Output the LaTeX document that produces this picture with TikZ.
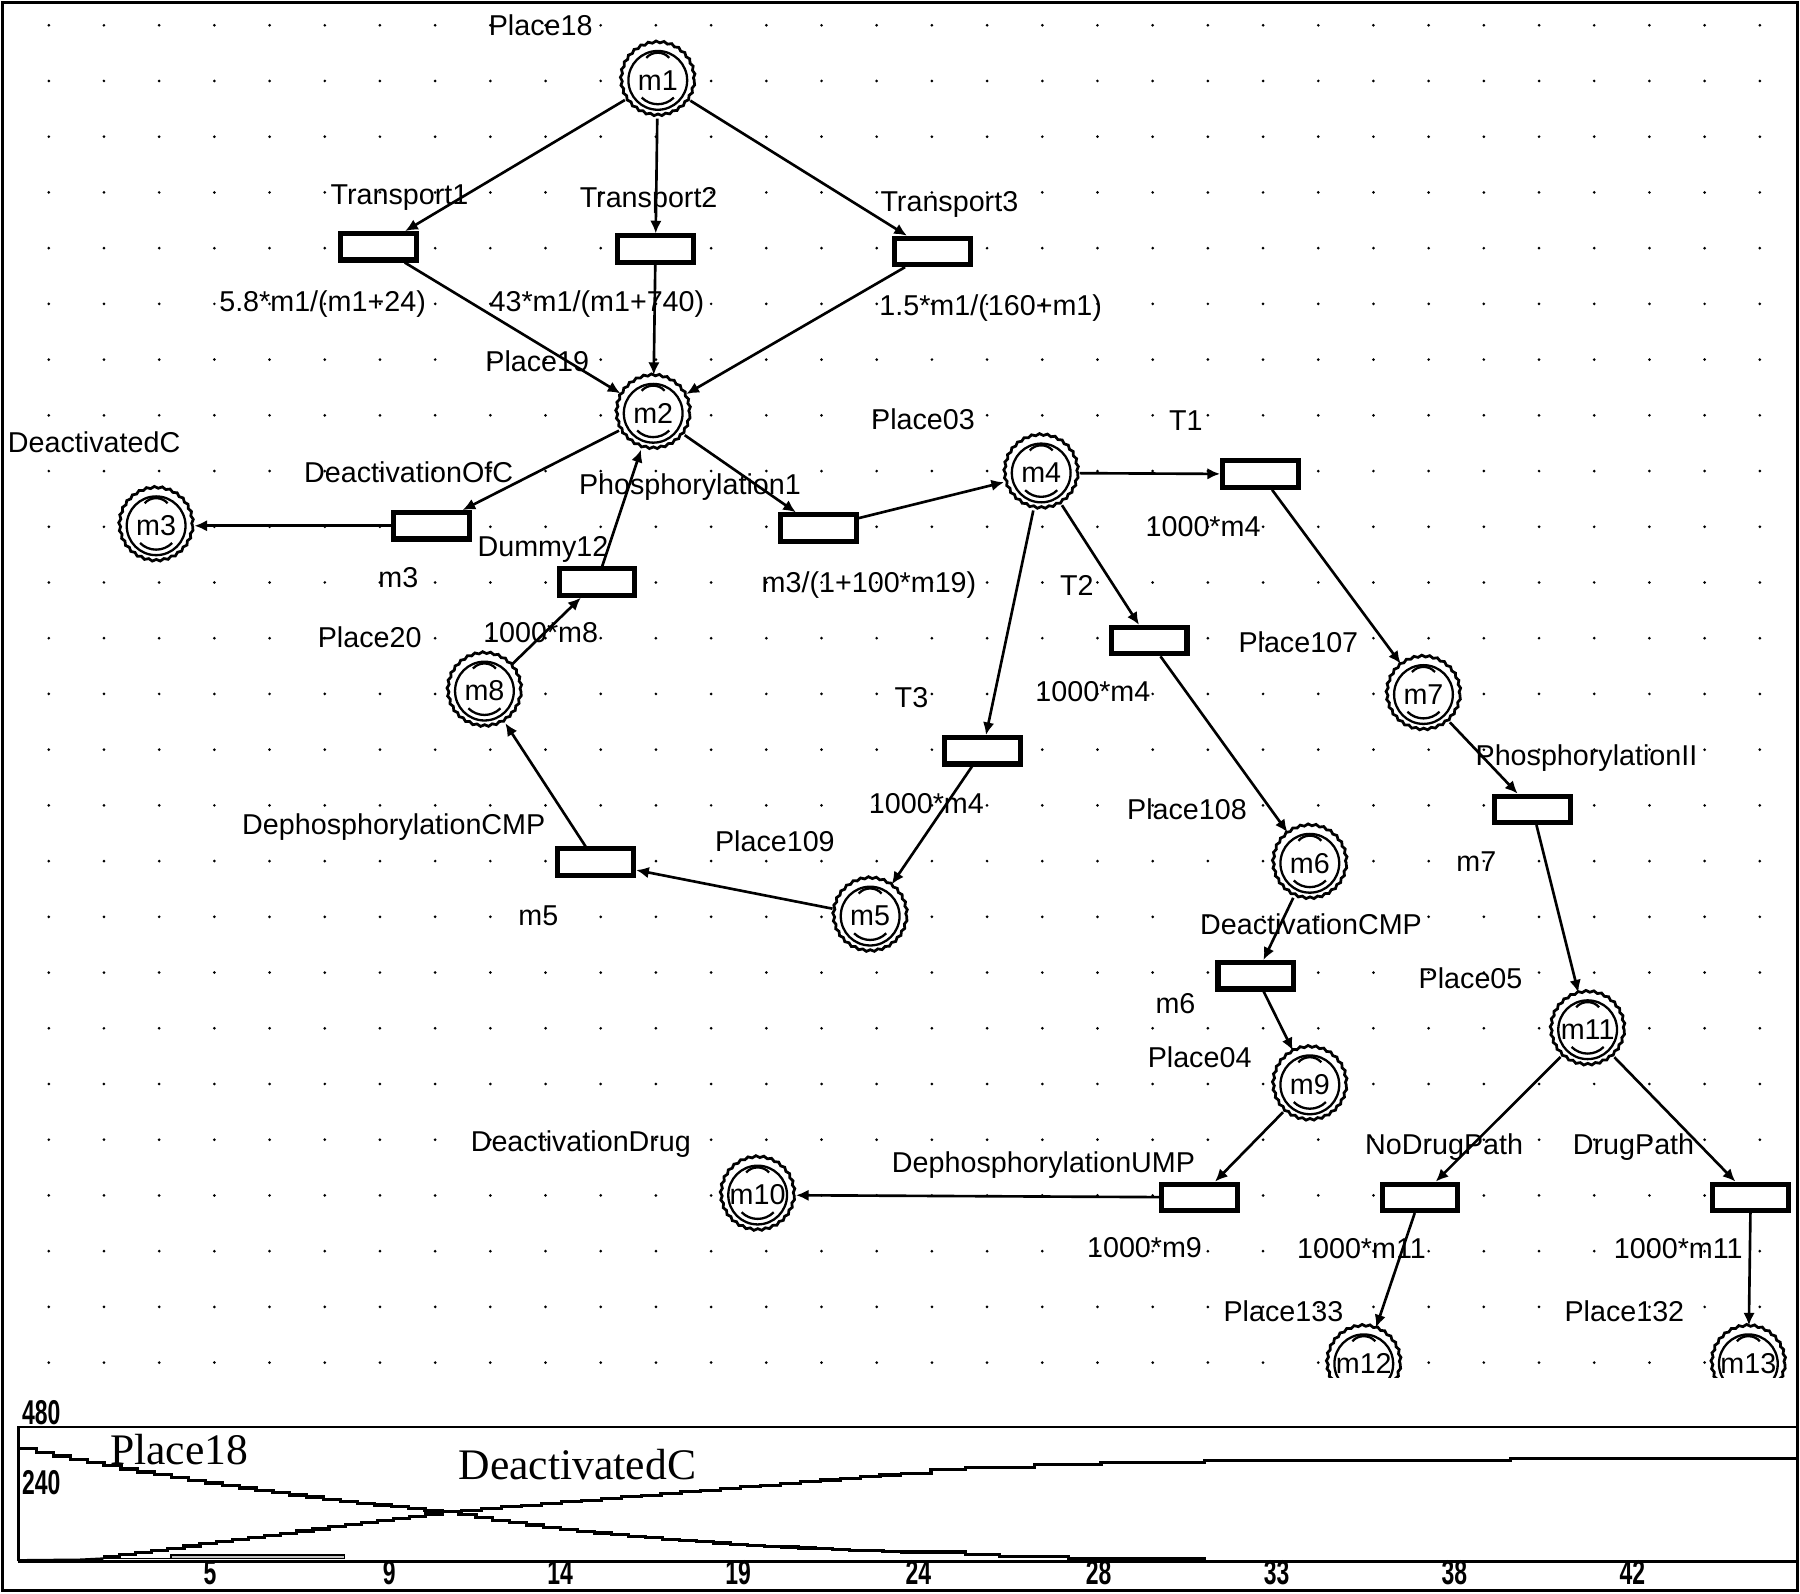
\documentclass[tikz,border=0pt]{standalone}
\usepackage{fontspec}
\setmainfont{Liberation Sans}
\newfontfamily\chartserif{Liberation Serif}
\newfontfamily\tickfont{Liberation Sans}
\usetikzlibrary{decorations.pathmorphing,arrows.meta}
\newcommand\tk[1]{\scalebox{0.8}[1.2]{#1}}
\tikzset{
 lbl/.style={font=\fontsize{12.5}{14}\selectfont, inner sep=0pt, anchor=base},
 tbox/.style={rectangle, draw, line width=2.2pt, fill=white, minimum width=33pt, minimum height=11.5pt, inner sep=0pt},
 pnode/.style={circle, minimum size=33pt, inner sep=0pt, fill=white, font=\fontsize{12.5}{12}\selectfont},
 pring/.style={line width=1.2pt, decorate, decoration={snake, amplitude=0.4pt, segment length=3.4pt}},
 pinner/.style={line width=1pt},
 conn/.style={line width=1.15pt, -{Latex[length=5.5pt,width=5pt]}},
 tick/.style={font=\tickfont\bfseries\fontsize{12.5}{12}\selectfont, inner sep=0pt, anchor=base},
 big/.style={font=\chartserif\fontsize{19}{20}\selectfont, inner sep=0pt, anchor=base},
 curve/.style={line width=1.4pt},
}
\newcommand\mkplace[4]{%
  \node[pnode] (#1) at (#2,#3) {#4};
  \draw[pring] (#1.center) circle[radius=15.9pt];
  \draw[pinner] (#1.center) circle[radius=12.8pt];
  \draw[pinner] ([shift={(-5pt,9.8pt)}]#1.center) to[bend left=50] ([shift={(5pt,9.8pt)}]#1.center);
  \draw[pinner] ([shift={(-7pt,-7.5pt)}]#1.center) to[bend right=45] ([shift={(7pt,-7.5pt)}]#1.center);
}
\begin{document}
\begin{tikzpicture}[x=0.5pt,y=-0.5pt]
\useasboundingbox (0,0) rectangle (1568,1388.3);
\fill[white] (0,0) rectangle (1568,1388.3);
\draw[line width=1.3pt] (2,2) rectangle (1565.5,1385.5);

\begin{scope}
\clip (0,0) rectangle (1568,1200);
% dot grid
\foreach \i in {0,...,31} \foreach \j in {0,...,24}
  \fill ({42.5+48.08*\i},{22+48.54*\j}) circle[radius=0.65pt];

% labels
\node[lbl] at (471,31) {Place18};
\node[lbl] at (348,178) {Transport1};
\node[lbl] at (565,181) {Transport2};
\node[lbl] at (827,184) {Transport3};
\node[lbl] at (281,271) {5.8*m1/(m1+24)};
\node[lbl] at (520,271) {43*m1/(m1+740)};
\node[lbl] at (863,275) {1.5*m1/(160+m1)};
\node[lbl] at (468,324) {Place19};
\node[lbl] at (804,374) {Place03};
\node[lbl] at (1033,375) {T1};
\node[lbl] at (82,394) {DeactivatedC};
\node[lbl] at (356,420) {DeactivationOfC};
\node[lbl] at (601,431) {Phosphorylation1};
\node[lbl] at (473,485) {Dummy12};
\node[lbl] at (1048,467) {1000*m4};
\node[lbl] at (347,512) {m3};
\node[lbl] at (757,516) {m3/(1+100*m19)};
\node[lbl] at (938,519) {T2};
\node[lbl] at (322,564) {Place20};
\node[lbl] at (471,560) {1000*m8};
\node[lbl] at (1131,568) {Place107};
\node[lbl] at (794,616) {T3};
\node[lbl] at (952,611) {1000*m4};
\node[lbl] at (1382,667) {PhosphorylationII};
\node[lbl] at (807,709) {1000*m4};
\node[lbl] at (1034,714) {Place108};
\node[lbl] at (343,727) {DephosphorylationCMP};
\node[lbl] at (675,742) {Place109};
\node[lbl] at (1286,759) {m7};
\node[lbl] at (469,806) {m5};
\node[lbl] at (1142,814) {DeactivationCMP};
\node[lbl] at (1281,861) {Place05};
\node[lbl] at (1024,883) {m6};
\node[lbl] at (1045,930) {Place04};
\node[lbl] at (506,1003) {DeactivationDrug};
\node[lbl] at (1258,1006) {NoDrugPath};
\node[lbl] at (1423,1006) {DrugPath};
\node[lbl] at (909,1021) {DephosphorylationUMP};
\node[lbl] at (997,1095) {1000*m9};
\node[lbl] at (1186,1096) {1000*m11};
\node[lbl] at (1462,1096) {1000*m11};
\node[lbl] at (1118,1151) {Place133};
\node[lbl] at (1415,1151) {Place132};

% transitions
\node[tbox] (Transport1) at (330,215) {};
\node[tbox] (Transport2) at (571,217) {};
\node[tbox] (Transport3) at (812,219) {};
\node[tbox] (DeactOfC) at (376,458) {};
\node[tbox] (Phos1) at (713,460) {};
\node[tbox] (Dummy12) at (520,507) {};
\node[tbox] (T1) at (1098,413) {};
\node[tbox] (T2) at (1001,558) {};
\node[tbox] (T3) at (856,654) {};
\node[tbox] (DephCMP) at (519,751) {};
\node[tbox] (PhosII) at (1335,705) {};
\node[tbox] (DeactCMP) at (1094,850) {};
\node[tbox] (DephUMP) at (1045,1043) {};
\node[tbox] (NoDrug) at (1237,1043) {};
\node[tbox] (Drug) at (1525,1043) {};

% places
\mkplace{m1}{573}{70}{m1}
\mkplace{m2}{569}{360}{m2}
\mkplace{m3}{136}{458}{m3}
\mkplace{m4}{907}{412}{m4}
\mkplace{m5}{758}{798}{m5}
\mkplace{m6}{1141}{752}{m6}
\mkplace{m7}{1240}{605}{m7}
\mkplace{m8}{422}{602}{m8}
\mkplace{m9}{1141}{945}{m9}
\mkplace{m10}{660}{1041}{m10}
\mkplace{m11}{1383}{897}{m11}
\mkplace{m12}{1188}{1188}{m12}
\mkplace{m13}{1523}{1188}{m13}

% connectors
\draw[conn] (m1) -- (Transport1);
\draw[conn] (m1) -- (Transport2);
\draw[conn] (m1) -- (Transport3);
\draw[conn] (Transport1) -- (m2);
\draw[conn] (Transport2) -- (m2);
\draw[conn] (Transport3) -- (m2);
\draw[conn] (m2) -- (DeactOfC);
\draw[conn] (DeactOfC) -- (m3);
\draw[conn] (m2) -- (Phos1);
\draw[conn] (Phos1) -- (m4);
\draw[conn] (Dummy12) -- (m2);
\draw[conn] (m8) -- (Dummy12);
\draw[conn] (DephCMP) -- (m8);
\draw[conn] (m5) -- (DephCMP);
\draw[conn] (T3) -- (m5);
\draw[conn] (m4) -- (T3);
\draw[conn] (m4) -- (T2);
\draw[conn] (T2) -- (m6);
\draw[conn] (m4) -- (T1);
\draw[conn] (T1) -- (m7);
\draw[conn] (m7) -- (PhosII);
\draw[conn] (PhosII) -- (m11);
\draw[conn] (m6) -- (DeactCMP);
\draw[conn] (DeactCMP) -- (m9);
\draw[conn] (m9) -- (DephUMP);
\draw[conn] (DephUMP) -- (m10);
\draw[conn] (m11) -- (NoDrug);
\draw[conn] (m11) -- (Drug);
\draw[conn] (NoDrug) -- (m12);
\draw[conn] (Drug) -- (m13);
\end{scope}

% chart
\draw[line width=1.2pt] (16,1360) -- (16,1243) -- (1566,1243);
\draw[line width=1.2pt] (16,1360) -- (1566,1360);
\node[tick] at (36,1241) {\tk{480}};
\node[tick] at (36,1302) {\tk{240}};
\foreach \xx/\tt in {183/5,339/9,488/14,643/19,800/24,957/28,1112/33,1267/38,1422/42}
  \node[tick] at (\xx,1380) {\tk{\tt}};
\node[big] at (156,1275.5) {Place18};
\node[big] at (503,1288.5) {DeactivatedC};

% Place18 curve
\draw[curve] plot[const plot, domain=17:385, samples=26] (\x,{1360-98*exp(-0.002237*(\x-17))});
\draw[curve] plot[const plot, domain=385:784, samples=28] (\x,{1360-43*exp(-0.004216*(\x-385))});
\draw[curve] plot[const plot] coordinates {(784,1352) (841,1354) (871,1356) (931,1358) (1049,1359.5)};
% DeactivatedC curve
\draw[curve] (17,1359.5) -- (70,1359) -- (90,1358);
\draw[curve] plot[const plot, domain=90:385, samples=22] (\x,{1356-(\x-90)*0.1322});
\draw[curve] plot[const plot, domain=385:784, samples=24] (\x,{1317-(\x-385)*0.084});
\draw[curve] plot[const plot] coordinates {(784,1283.5) (811,1280) (841,1278) (901,1276) (959,1274) (1049,1272) (1316,1270.4) (1566,1270.4)};
% minor curves near zero
\draw[line width=0.5pt] (90,1357.5) -- (149,1357.5);
\draw[line width=0.5pt, fill=gray!45] (149,1354.5) rectangle (300,1357.5);
\end{tikzpicture}
\end{document}
